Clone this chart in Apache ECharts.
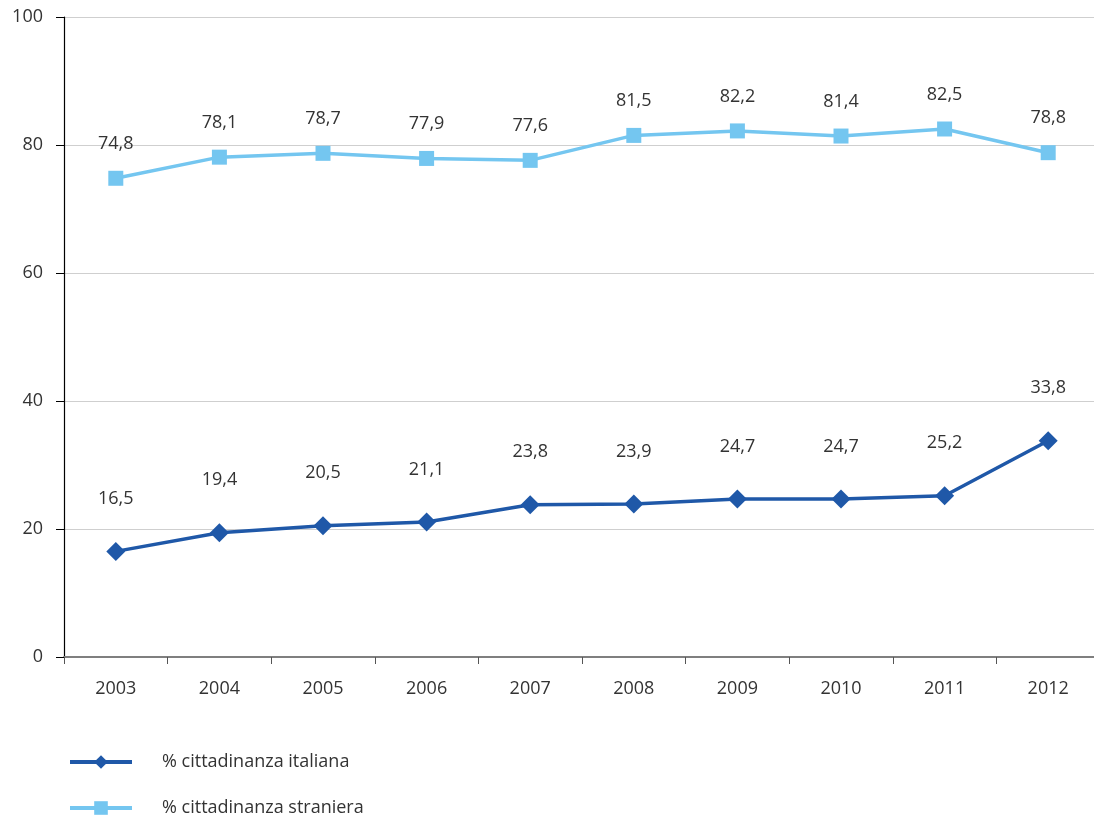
<!DOCTYPE html>
<html><head><meta charset="utf-8">
<script src="https://cdn.jsdelivr.net/npm/echarts@6/dist/echarts.min.js"></script>
<style>html,body{margin:0;padding:0;background:#fff;overflow:hidden;width:1094px;height:823px}#c{width:1104px;height:823px}</style>
</head><body><div id="c"></div>
<script>
const years = ['2003','2004','2005','2006','2007','2008','2009','2010','2011','2012'];
const italiana = [16.5, 19.4, 20.5, 21.1, 23.8, 23.9, 24.7, 24.7, 25.2, 33.8];
const straniera = [74.8, 78.1, 78.7, 77.9, 77.6, 81.5, 82.2, 81.4, 82.5, 78.8];
const seriesNames = ['% cittadinanza italiana', '% cittadinanza straniera'];

const FONT = '"Open Sans", "Noto Sans", sans-serif';
const fmt = p => String(p.value).replace('.', ',');
const legendBase = {
  orient: 'horizontal', left: 68, padding: 0,
  itemWidth: 62, itemHeight: 17,
  lineStyle: {width: 4},
  textStyle: {fontFamily: FONT, fontSize: 18, color: '#333', padding: [0, 0, 0, 25]}
};
const chart = echarts.init(document.getElementById('c'));
chart.setOption({
  animation: false,
  textStyle: {fontFamily: FONT},
  grid: {left: 64, top: 17, width: 1036, height: 640, containLabel: false},
  legend: [
    Object.assign({}, legendBase, {top: 753, data: [seriesNames[0]]}),
    Object.assign({}, legendBase, {top: 799, data: [seriesNames[1]]})
  ],
  xAxis: {
    type: 'category', data: years, boundaryGap: true,
    axisLine: {lineStyle: {color: '#7f7f7f', width: 2}},
    axisTick: {show: true, length: 7, lineStyle: {color: '#555', width: 1}},
    axisLabel: {fontFamily: FONT, fontSize: 18, color: '#333', margin: 23}
  },
  yAxis: {
    type: 'value', min: 0, max: 100, interval: 20,
    axisLine: {show: true, lineStyle: {color: '#000', width: 1.2}},
    axisTick: {show: true, length: 8, lineStyle: {color: '#000'}},
    axisLabel: {fontFamily: FONT, fontSize: 18, color: '#333', margin: 21},
    splitLine: {lineStyle: {color: '#cfcfcf', width: 1}}
  },
  series: [
    {
      name: seriesNames[0], type: 'line', data: italiana,
      symbol: 'diamond', symbolSize: 19,
      lineStyle: {color: '#1f58a8', width: 3.5},
      itemStyle: {color: '#1f58a8'},
      label: {show: true, position: 'top', distance: 34, formatter: fmt,
        fontFamily: FONT, fontSize: 18, color: '#333'}
    },
    {
      name: seriesNames[1], type: 'line', data: straniera,
      symbol: 'rect', symbolSize: 15,
      lineStyle: {color: '#74c6f0', width: 3.5},
      itemStyle: {color: '#74c6f0'},
      label: {show: true, position: 'top', distance: 18, formatter: fmt,
        fontFamily: FONT, fontSize: 18, color: '#333'}
    }
  ]
});
</script></body></html>
